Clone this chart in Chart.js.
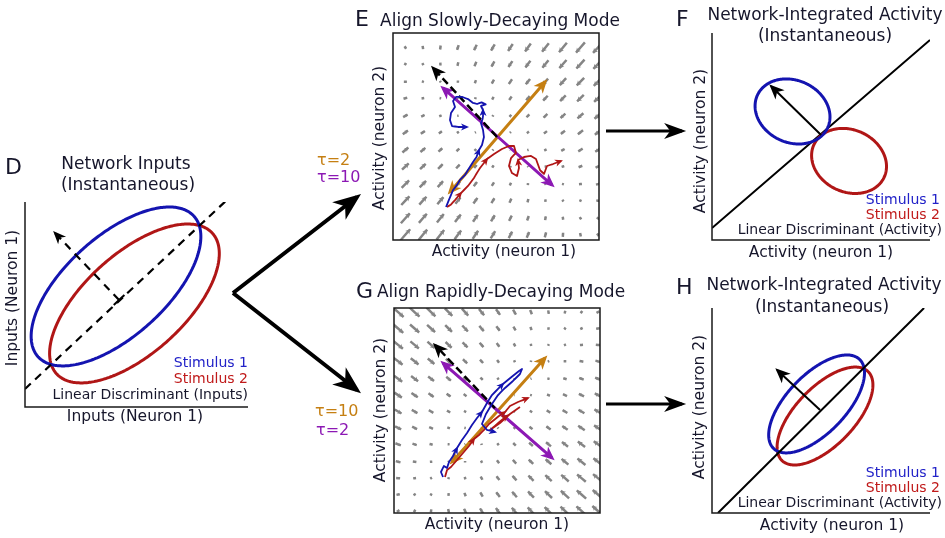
<!DOCTYPE html>
<html><head><meta charset="utf-8">
<script src="https://cdn.jsdelivr.net/npm/chart.js@4.4.1/dist/chart.umd.min.js"></script>
<style>
html,body{margin:0;padding:0;background:#fff;}
#wrap{position:relative;width:945px;height:538px;overflow:hidden;background:#fff;}
canvas{position:absolute;left:0;top:0;}
</style></head><body>
<div id="wrap">
<canvas id="cvO" width="945" height="538"></canvas>
<canvas id="cvD" width="945" height="538"></canvas>
<canvas id="cvE" width="945" height="538"></canvas>
<canvas id="cvF" width="945" height="538"></canvas>
<canvas id="cvG" width="945" height="538"></canvas>
<canvas id="cvH" width="945" height="538"></canvas>
</div>
<script>
// ---------------- DATA ----------------
// Panel D: network inputs (ellipse = [centre x, centre y, semi-major, semi-minor, angle deg])
const dRangeX = [0, 10.88], dRangeY = [0, 10];
const dStimulus1 = [4.44, 5.88, 5.12, 2.44, 42];
const dStimulus2 = [5.34, 5.05, 5.12, 2.44, 42];
const dDiscriminant = [[0, 0.88], [9.85, 10.1]];
const dNormalArrow = [[4.59, 5.22], [1.46, 8.49]];
const dNormalFoot = [[4.33, 4.98], [4.85, 5.46]];

// Panels E / G: two-neuron dynamics
const modeRange = [-1, 1];
const eTau = {orange: 2, purple: 10};
const gTau = {orange: 10, purple: 2};
const eModeDirs = {orange: [0.654, 0.757], purple: [0.747, -0.665]};
const gModeDirs = {orange: [0.667, 0.745], purple: [0.755, -0.656]};
const eQuiverX = [-0.88,-0.71,-0.54,-0.37,-0.20,-0.03,0.14,0.31,0.48,0.65,0.82,0.99];
const eQuiverY = [0.86,0.70,0.53,0.37,0.20,0.04,-0.13,-0.29,-0.46,-0.62,-0.79,-0.95];
const gQuiverX = [-0.96,-0.80,-0.64,-0.47,-0.31,-0.15,0.01,0.17,0.33,0.50,0.66,0.82,0.98];
const gQuiverY = [0.96,0.80,0.64,0.48,0.31,0.15,-0.01,-0.17,-0.33,-0.50,-0.66,-0.82,-0.98];

const eOrangeMode = [[-0.447,-0.536],[0.476,0.527]];
const ePurpleMode = [[-0.515,0.469],[0.544,-0.469]];
const eDiscArrow = [[0.01,-0.005],[-0.612,0.662]];
const eBlueTrajectory = [
  [[-0.485,-0.681],[-0.46,-0.62],[-0.417,-0.517],[-0.38,-0.47],[-0.350,-0.420],[-0.30,-0.37],[-0.272,-0.324],[-0.223,-0.246],[-0.19,-0.20],[-0.165,-0.130]],
  [[-0.165,-0.130],[-0.136,-0.082],[-0.117,-0.005],[-0.126,0.063],[-0.146,0.130],[-0.13,0.17],[-0.126,0.198],[-0.126,0.256]],
  [[-0.126,0.256],[-0.146,0.295],[-0.10,0.31],[-0.14,0.33],[-0.184,0.314],[-0.223,0.324],[-0.272,0.362],[-0.330,0.382],[-0.388,0.382],[-0.417,0.343],[-0.398,0.285],[-0.437,0.227],[-0.447,0.159],[-0.427,0.101],[-0.369,0.092],[-0.282,0.092]]
];
const eRedTrajectory = [
  [[-0.476,-0.681],[-0.44,-0.66],[-0.398,-0.614],[-0.340,-0.546]],
  [[-0.340,-0.546],[-0.272,-0.478],[-0.214,-0.401],[-0.19,-0.36],[-0.155,-0.304],[-0.087,-0.217]],
  [[-0.087,-0.217],[-0.019,-0.169],[0.058,-0.121],[0.126,-0.092],[0.175,-0.092],[0.194,-0.159],[0.146,-0.208],[0.126,-0.285],[0.155,-0.353],[0.204,-0.382],[0.223,-0.304],[0.214,-0.227]],
  [[0.214,-0.227],[0.272,-0.198],[0.340,-0.188],[0.388,-0.217],[0.427,-0.324],[0.466,-0.362],[0.495,-0.285],[0.553,-0.266],[0.631,-0.237]]
];

const gOrangeMode = [[-0.437,-0.502],[0.466,0.512]];
const gPurpleMode = [[-0.524,0.463],[0.534,-0.463]];
const gDiscArrow = [[-0.02,0.024],[-0.602,0.639]];
const gBlueTrajectory = [
  [[-0.524,-0.649],[-0.544,-0.600],[-0.515,-0.541],[-0.485,-0.561],[-0.466,-0.502],[-0.427,-0.444],[-0.388,-0.366]],
  [[-0.388,-0.366],[-0.340,-0.288],[-0.291,-0.220],[-0.243,-0.141],[-0.194,-0.073],[-0.146,-0.015]],
  [[-0.146,-0.015],[-0.097,0.073],[-0.049,0.151],[0.010,0.210],[0.058,0.259]],
  [[0.058,0.259],[0.117,0.307],[0.165,0.346],[0.214,0.385],[0.243,0.405],[0.223,0.356],[0.155,0.288],[0.078,0.220],[0.010,0.151],[-0.049,0.063],[-0.107,-0.034],[-0.146,-0.132],[-0.097,-0.190],[-0.019,-0.210]]
];
const gRedTrajectory = [
  [[-0.505,-0.649],[-0.485,-0.580],[-0.447,-0.551],[-0.388,-0.483],[-0.330,-0.415],[-0.272,-0.346],[-0.223,-0.278]],
  [[-0.223,-0.278],[-0.175,-0.239],[-0.126,-0.190],[-0.078,-0.132],[-0.029,-0.093],[0.019,-0.054],[0.078,-0.015]],
  [[0.078,-0.015],[0.126,0.044],[0.204,0.083],[0.252,0.102],[0.301,0.122]],
  [[0.223,0.034],[0.126,-0.034],[0.029,-0.122],[-0.068,-0.190],[-0.02,-0.15],[0.05,-0.09],[0.10,-0.05]]
];

// Panel F
const fRangeX = [0, 10.53], fRangeY = [0, 10];
const fDiscriminant = [[0, 0.58], [10.53, 9.66]];
const fStimulus1 = [3.89, 6.21, 1.87, 1.50, -25];
const fStimulus2 = [6.62, 3.82, 1.87, 1.50, -25];
const fArrow = [[5.27, 5.07], [2.85, 7.44]];

// Panel H
const hRangeX = [0, 10.63], hRangeY = [0, 10];
const hDiscriminant = [[0.29, 0], [10.34, 10]];
const hStimulus1 = [5.10, 5.32, 3.02, 1.43, 46];
const hStimulus2 = [5.51, 4.73, 3.02, 1.43, 46];
const hArrow = [[5.27, 5.02], [3.17, 6.98]];

// Connectors between panels (page units)
const connectorsBig = [[[233,293],[357,197]], [[233,293],[357,390]]];
const connectorsSmall = [[[606,131],[682,131]], [[606,404],[682,404]]];

// ---------------- STYLE / HELPERS ----------------
const FONT = '"DejaVu Sans", Verdana, sans-serif';
const INK = '#16162b';
const BLUE = '#1414b0', RED = '#b01616', ORANGE = '#c57f12', PURPLE = '#8c18b4', GRAY = '#858585';
const LBLUE = '#2222c8', LRED = '#c01a1a';
const TITLE = 17, AXIS = 15.5, LEG = 14, LETTER = 22;

const pts = a => a.map(p => ({x: p[0], y: p[1]}));
function lineDS(points, color, width, extra) {
  return Object.assign({data: pts(points), showLine: true, borderColor: color, backgroundColor: color,
    borderWidth: width, pointRadius: 0, pointHoverRadius: 0, fill: false, tension: 0.0001,
    borderJoinStyle: 'round'}, extra || {});
}
function ellipse(e) {
  const [cx, cy, a, b, deg] = e, t = deg * Math.PI / 180, out = [];
  for (let i = 0; i <= 160; i++) {
    const s = 2 * Math.PI * i / 160;
    out.push([cx + a * Math.cos(s) * Math.cos(t) - b * Math.sin(s) * Math.sin(t),
              cy + a * Math.cos(s) * Math.sin(t) + b * Math.sin(s) * Math.cos(t)]);
  }
  return out;
}
function quiver(xs, ys, tau, dirs, k) {
  const out = [];
  const o = dirs.orange, p = dirs.purple;
  for (const y of ys) for (const x of xs) {
    const po = (x * o[0] + y * o[1]) / tau.orange, pp = (x * p[0] + y * p[1]) / tau.purple;
    const vx = -(po * o[0] + pp * p[0]) * k, vy = -(po * o[1] + pp * p[1]) * k;
    out.push({x: x - vx / 2, y: y - vy / 2}, {x: x + vx / 2, y: y + vy / 2}, {x: null, y: null});
  }
  return out;
}
function trajectory(segs, color) {
  return segs.map(s => lineDS(s, color, 1.8, {headEnd: [8, 7]}));
}
function stack(list) { const n = list.length; list.forEach((d, i) => d.order = n - i); return list; }

function drawHead(ctx, x1, y1, x2, y2, len, wid, color, lw) {
  const ang = Math.atan2(y2 - y1, x2 - x1);
  const off = lw * len / wid;
  ctx.save();
  ctx.translate(x2, y2); ctx.rotate(ang); ctx.translate(off, 0);
  ctx.beginPath();
  ctx.moveTo(0, 0); ctx.lineTo(-len, wid / 2); ctx.lineTo(-len * 0.72, 0); ctx.lineTo(-len, -wid / 2);
  ctx.closePath(); ctx.fillStyle = color; ctx.fill();
  ctx.restore();
}
const arrowPlugin = {
  id: 'arrowHeads',
  afterDatasetDraw(chart, args) {
    const ds = chart.data.datasets[args.index], el = args.meta.data, ctx = chart.ctx;
    if (ds.quiver) {
      const ca = chart.chartArea;
      ctx.save(); ctx.beginPath(); ctx.rect(ca.left, ca.top, ca.right - ca.left, ca.bottom - ca.top); ctx.clip();
      for (let i = 0; i + 1 < el.length; i += 3) {
        const a = el[i], b = el[i + 1];
        const len = Math.hypot(b.x - a.x, b.y - a.y);
        if (!(len > 0.8)) continue;
        const hl = Math.min(4.5, len * 0.5);
        drawHead(ctx, a.x, a.y, b.x, b.y, hl, hl * 1.2, ds.borderColor, 0);
      }
      ctx.restore();
    }
    const n = el.length;
    if (ds.headEnd) drawHead(ctx, el[n - 2].x, el[n - 2].y, el[n - 1].x, el[n - 1].y, ds.headEnd[0], ds.headEnd[1], ds.borderColor, ds.borderWidth);
    if (ds.headStart) drawHead(ctx, el[1].x, el[1].y, el[0].x, el[0].y, ds.headStart[0], ds.headStart[1], ds.borderColor, ds.borderWidth);
  }
};
function textPlugin(items) {
  return {id: 'pageText', afterDraw(chart) {
    const ctx = chart.ctx;
    for (const it of items) {
      ctx.save();
      ctx.font = `${it.s}px ${FONT}`;
      ctx.fillStyle = it.c || INK; ctx.textAlign = it.a || 'center'; ctx.textBaseline = 'middle';
      ctx.translate(it.x, it.y); if (it.r) ctx.rotate(it.r * Math.PI / 180);
      ctx.fillText(it.t, 0, 0); ctx.restore();
    }
  }};
}
function framePlugin(full) {
  return {id: 'frame', afterDatasetsDraw(chart) {
    const {left, right, top, bottom} = chart.chartArea, ctx = chart.ctx;
    ctx.save(); ctx.strokeStyle = '#1a1a1a'; ctx.lineWidth = 1.5; ctx.beginPath();
    if (full) { ctx.rect(left, top, right - left, bottom - top); }
    else { ctx.moveTo(left, top); ctx.lineTo(left, bottom); ctx.lineTo(right, bottom); }
    ctx.stroke(); ctx.restore();
  }};
}
function panel(id, box, xr, yr, datasets, plugins, reverseY) {
  return new Chart(document.getElementById(id), {
    type: 'scatter',
    data: {datasets: stack(datasets)},
    options: {
      responsive: false, animation: false, devicePixelRatio: 1, events: [],
      layout: {padding: {left: box[0], top: box[1], right: 945 - box[2], bottom: 538 - box[3]}},
      scales: {
        x: {type: 'linear', display: false, min: xr[0], max: xr[1]},
        y: {type: 'linear', display: false, min: yr[0], max: yr[1], reverse: !!reverseY}
      },
      plugins: {legend: {display: false}, tooltip: {enabled: false}, title: {display: false}}
    },
    plugins: [arrowPlugin].concat(plugins)
  });
}

// ---------------- OVERLAY (connectors, tau labels) ----------------
panel('cvO', [0, 0, 945, 538], [0, 945], [0, 538], [
  ...connectorsBig.map(c => lineDS(c, '#000', 4, {headEnd: [28, 22]})),
  ...connectorsSmall.map(c => lineDS(c, '#000', 3, {headEnd: [22, 16]}))
], [textPlugin([
  {t: 'τ=2', x: 317, y: 161, s: 16, a: 'left', c: ORANGE},
  {t: 'τ=10', x: 317, y: 178, s: 16, a: 'left', c: PURPLE},
  {t: 'τ=10', x: 315, y: 412, s: 16, a: 'left', c: ORANGE},
  {t: 'τ=2', x: 316, y: 431, s: 16, a: 'left', c: PURPLE}
])], true);

// ---------------- PANEL D ----------------
panel('cvD', [25, 202, 248, 407], dRangeX, dRangeY, [
  lineDS(ellipse(dStimulus2), RED, 3),
  lineDS(ellipse(dStimulus1), BLUE, 3),
  lineDS(dDiscriminant, '#000', 2.2, {borderDash: [8, 6]}),
  lineDS(dNormalArrow, '#000', 2.2, {borderDash: [8, 6], headEnd: [13, 11]}),
  lineDS(dNormalFoot, '#000', 2)
], [framePlugin(false), textPlugin([
  {t: 'D', x: 5, y: 168, s: LETTER, a: 'left'},
  {t: 'Network Inputs', x: 126, y: 165, s: TITLE},
  {t: '(Instantaneous)', x: 128, y: 186, s: TITLE},
  {t: 'Inputs (Neuron 1)', x: 135, y: 417, s: AXIS},
  {t: 'Inputs (Neuron 1)', x: 13, y: 298, s: AXIS, r: -90},
  {t: 'Stimulus 1', x: 248, y: 363, s: LEG, a: 'right', c: LBLUE},
  {t: 'Stimulus 2', x: 248, y: 379, s: LEG, a: 'right', c: LRED},
  {t: 'Linear Discriminant (Inputs)', x: 248, y: 395, s: LEG, a: 'right'}
])]);

// ---------------- PANEL E ----------------
panel('cvE', [393, 33, 599, 240], modeRange, modeRange, [
  lineDS([], GRAY, 2.5, {data: quiver(eQuiverX, eQuiverY, eTau, eModeDirs, 0.22), quiver: true}),
  lineDS(eOrangeMode, ORANGE, 3, {headEnd: [14, 12], headStart: [14, 12]}),
  lineDS(ePurpleMode, PURPLE, 3, {headEnd: [14, 12], headStart: [14, 12]}),
  lineDS(eDiscArrow, '#000', 2.5, {borderDash: [8, 4], headEnd: [15, 13]}),
  ...trajectory(eRedTrajectory, RED),
  ...trajectory(eBlueTrajectory, BLUE)
], [framePlugin(true), textPlugin([
  {t: 'E', x: 355, y: 20, s: LETTER, a: 'left'},
  {t: 'Align Slowly-Decaying Mode', x: 500, y: 22, s: TITLE},
  {t: 'Activity (neuron 2)', x: 380, y: 138, s: AXIS, r: -90},
  {t: 'Activity (neuron 1)', x: 504, y: 252, s: AXIS}
])]);

// ---------------- PANEL F ----------------
panel('cvF', [712, 33, 930, 240], fRangeX, fRangeY, [
  lineDS(fDiscriminant, '#000', 2),
  lineDS(ellipse(fStimulus2), RED, 3),
  lineDS(ellipse(fStimulus1), BLUE, 3),
  lineDS(fArrow, '#000', 2, {headEnd: [15, 13]})
], [framePlugin(false), textPlugin([
  {t: 'F', x: 676, y: 20, s: LETTER, a: 'left'},
  {t: 'Network-Integrated Activity', x: 825, y: 16, s: TITLE},
  {t: '(Instantaneous)', x: 825, y: 37, s: TITLE},
  {t: 'Activity (neuron 2)', x: 701, y: 141, s: AXIS, r: -90},
  {t: 'Activity (neuron 1)', x: 821, y: 253, s: AXIS},
  {t: 'Stimulus 1', x: 940, y: 200, s: LEG, a: 'right', c: LBLUE},
  {t: 'Stimulus 2', x: 940, y: 215, s: LEG, a: 'right', c: LRED},
  {t: 'Linear Discriminant (Activity)', x: 942, y: 230, s: LEG, a: 'right'}
])]);

// ---------------- PANEL G ----------------
panel('cvG', [394, 308, 600, 513], modeRange, modeRange, [
  lineDS([], GRAY, 2.5, {data: quiver(gQuiverX, gQuiverY, gTau, gModeDirs, 0.21), quiver: true}),
  lineDS(gOrangeMode, ORANGE, 3, {headEnd: [14, 12], headStart: [14, 12]}),
  lineDS(gPurpleMode, PURPLE, 3, {headEnd: [14, 12], headStart: [14, 12]}),
  lineDS(gDiscArrow, '#000', 2.5, {borderDash: [8, 4], headEnd: [15, 13]}),
  ...trajectory(gRedTrajectory, RED),
  ...trajectory(gBlueTrajectory, BLUE)
], [framePlugin(true), textPlugin([
  {t: 'G', x: 356, y: 292, s: LETTER, a: 'left'},
  {t: 'Align Rapidly-Decaying Mode', x: 501, y: 293, s: TITLE},
  {t: 'Activity (neuron 2)', x: 381, y: 410, s: AXIS, r: -90},
  {t: 'Activity (neuron 1)', x: 497, y: 525, s: AXIS}
])]);

// ---------------- PANEL H ----------------
panel('cvH', [712, 308, 930, 513], hRangeX, hRangeY, [
  lineDS(ellipse(hStimulus2), RED, 3),
  lineDS(ellipse(hStimulus1), BLUE, 3),
  lineDS(hDiscriminant, '#000', 2),
  lineDS(hArrow, '#000', 2, {headEnd: [15, 13]})
], [framePlugin(false), textPlugin([
  {t: 'H', x: 676, y: 288, s: LETTER, a: 'left'},
  {t: 'Network-Integrated Activity', x: 824, y: 286, s: TITLE},
  {t: '(Instantaneous)', x: 822, y: 308, s: TITLE},
  {t: 'Activity (neuron 2)', x: 700, y: 407, s: AXIS, r: -90},
  {t: 'Activity (neuron 1)', x: 832, y: 526, s: AXIS},
  {t: 'Stimulus 1', x: 940, y: 473, s: LEG, a: 'right', c: LBLUE},
  {t: 'Stimulus 2', x: 940, y: 488, s: LEG, a: 'right', c: LRED},
  {t: 'Linear Discriminant (Activity)', x: 942, y: 503, s: LEG, a: 'right'}
])]);
</script>
</body></html>
